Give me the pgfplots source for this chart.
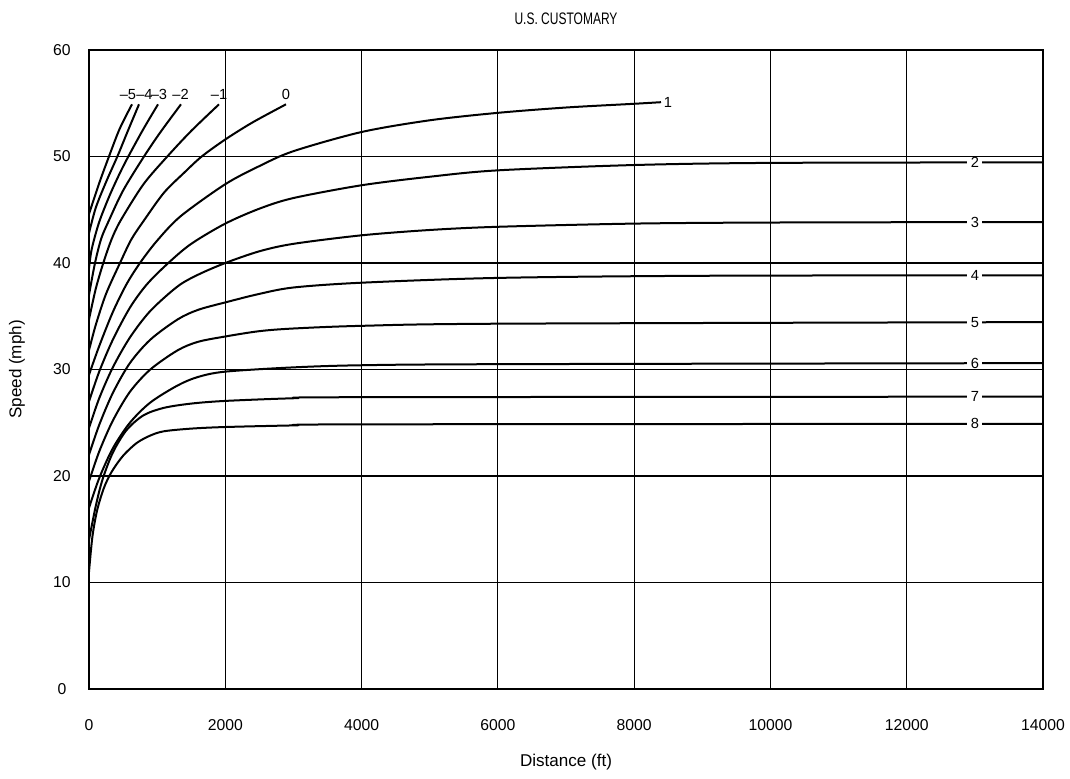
\documentclass[border=0pt]{standalone}
\usepackage{fontspec}
\setmainfont{Liberation Sans}
\newfontfamily\narrowfont[FakeStretch=0.72]{Liberation Sans}
\usepackage{pgfplots}
\pgfplotsset{compat=1.18}
\begin{document}
\fontsize{11pt}{13pt}\selectfont
\begin{tikzpicture}
\begin{axis}[
  at={(0,0)}, anchor=south west,
  scale only axis, width=715.5pt, height=479.25pt,
  xmin=0, xmax=14000, ymin=0, ymax=60,
  xtick={0,2000,...,14000}, ytick={0,10,...,60},
  grid=major, grid style={black, line width=0.8pt},
  axis line style={black, line width=0.8pt},
  major tick length=0pt,
  axis on top,
  scaled x ticks=false,
  /pgf/number format/assume math mode=true,
  /pgf/number format/1000 sep={},
  tick label style={font=\fontsize{11.8pt}{14pt}\selectfont},
  xticklabel style={anchor=center, yshift=-27pt},
  yticklabel style={anchor=center, xshift=-20.25pt},
  title={U.S. CUSTOMARY},
  title style={at={(axis description cs:0.5,1.036)}, anchor=center, font=\narrowfont\fontsize{12.5pt}{15pt}\selectfont},
  xlabel={Distance (ft)},
  xlabel style={at={(axis description cs:0.5,-0.1142)}, anchor=center, font=\fontsize{12.8pt}{15pt}\selectfont},
  ylabel={Speed (mph)},
  ylabel style={at={(axis description cs:-0.0755,0.5)}, anchor=center, font=\fontsize{12.8pt}{15pt}\selectfont},
  cv/.style={black, solid, mark=none, line width=1.5pt, smooth, tension=0.5},
]
% grade 8
\addplot[cv] coordinates {(0,11) (50,14.3) (120,16.8) (220,18.9) (333,20.4) (500,21.9) (700,23.1) (900,23.8) (1100,24.2) (1500,24.45) (2000,24.6) (3000,24.75) (4000,24.85) (14000,24.9)};
% grade 7
\addplot[cv] coordinates {(0,14) (100,17.2) (200,19.7) (350,22.2) (550,24.3) (800,25.7) (1100,26.4) (1500,26.8) (2000,27.05) (3000,27.3) (4000,27.4) (14000,27.45)};
% grade 6
\addplot[cv] coordinates {(0,17) (150,19.8) (350,22.6) (600,25) (900,26.9) (1300,28.5) (1600,29.3) (2000,29.8) (3000,30.2) (4000,30.4) (6000,30.5) (14000,30.6)};
% grade 5
\addplot[cv] coordinates {(0,19.5) (150,22.3) (350,25.2) (600,27.9) (900,30) (1300,31.8) (1600,32.6) (2000,33.1) (2500,33.6) (3000,33.85) (4000,34.1) (6000,34.3) (14000,34.45)};
% grade 4
\addplot[cv] coordinates {(0,22) (150,24.8) (350,27.8) (600,30.6) (900,32.8) (1300,34.7) (1600,35.6) (2000,36.3) (2500,37.1) (3000,37.7) (4000,38.15) (6000,38.6) (9000,38.8) (14000,38.85)};
% grade 3
\addplot[cv] coordinates {(0,24.5) (150,27.3) (350,30.2) (600,33) (900,35.5) (1300,37.8) (1600,38.9) (2000,40) (2500,41.1) (3000,41.8) (4000,42.6) (5000,43.1) (6000,43.4) (8000,43.7) (10000,43.8) (14000,43.85)};
% grade 2
\addplot[cv] coordinates {(0,27) (150,29.8) (350,32.8) (600,35.8) (850,38) (1164,40) (1500,41.8) (2000,43.7) (2500,45.1) (3000,46.1) (4000,47.3) (5000,48.1) (6000,48.7) (8000,49.2) (10000,49.4) (14000,49.45)};
% grade 1
\addplot[cv] coordinates {(0,29.5) (150,32.2) (350,35.4) (550,38) (748,40) (1000,42.1) (1346,44.4) (2000,47.4) (2500,49.1) (3000,50.5) (4000,52.3) (5000,53.4) (6000,54.1) (7000,54.6) (8000,54.95) (8394,55.1)};
% grade 0
\addplot[cv] coordinates {(0,31.8) (100,34.2) (250,37.1) (455,40) (620,42.2) (807,44) (1100,46.6) (1400,48.5) (1654,50) (2000,51.6) (2400,53.2) (2891,54.9)};
% grade -1
\addplot[cv] coordinates {(0,34.7) (100,37.6) (210,40) (330,42.2) (465,44) (800,47.4) (1149,50) (1500,52.4) (1908,54.9)};
% grade -2
\addplot[cv] coordinates {(0,37) (88,40) (180,42.3) (293,44) (500,46.8) (807,50) (1050,52.3) (1350,54.9)};
% grade -3
\addplot[cv] coordinates {(0,39.5) (40,41.3) (147,43.8) (300,46.3) (450,48.4) (577,50) (800,52.6) (1013,54.9)};
% grade -4
\addplot[cv] coordinates {(0,42.8) (100,45.2) (250,47.6) (416,50) (570,52.4) (734,54.9)};
% grade -5
\addplot[cv] coordinates {(0,44.6) (150,47.5) (293,50) (450,52.6) (631,54.9)};
% labels
\node at (axis cs:572,55.8) {--5};
\node at (axis cs:814,55.8) {--4};
\node at (axis cs:1027,55.8) {--3};
\node at (axis cs:1343,55.8) {--2};
\node at (axis cs:1908,55.8) {--1};
\node at (axis cs:2891,55.8) {0};
\node[anchor=west, inner xsep=2pt] at (axis cs:8394,55.1) {1};
\foreach \g/\v in {2/49.45,3/43.85,4/38.85,5/34.45,6/30.6,7/27.45,8/24.9}{
  \edef\tmp{\noexpand\node[fill=white, inner xsep=2.5pt, inner ysep=0.5pt] at (axis cs:13000,\v) {\g};}\tmp
}
\end{axis}
\pgfresetboundingbox
\path (-66.75pt,-66.75pt) rectangle (735.75pt,516.75pt);
\end{tikzpicture}
\end{document}
